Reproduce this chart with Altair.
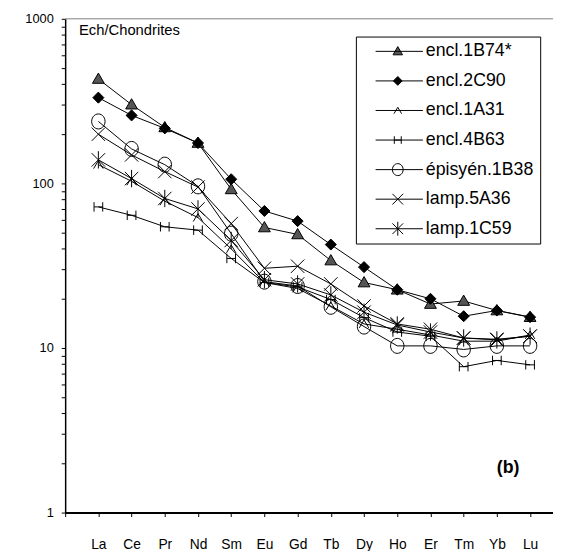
import math
import json
import altair as alt
import pandas as pd

# ---------------- data ----------------
elements = ["La", "Ce", "Pr", "Nd", "Sm", "Eu", "Gd", "Tb", "Dy", "Ho", "Er", "Tm", "Yb", "Lu"]
series_names = ["encl.1B74*", "encl.2C90", "encl.1A31", "encl.4B63",
                "épisyén.1B38", "lamp.5A36", "lamp.1C59"]

encl_1B74 = [431, 301, 219, 176, 92, 54, 49, 34, 25, 22.6, 18.5, 19.3, 16.9, 15.4]
encl_2C90 = [332, 259, 216, 176, 106, 68, 59, 42.5, 31, 22.6, 19.9, 15.6, 16.9, 15.4]
encl_1A31 = [130, 103, 78, 62, 40, 25, 23, 18, 14, 13, 12, 11, 11, 12]
encl_4B63 = [72, 64, 54.5, 52, 35, 25, 23.5, 19.7, 15.3, 12.5, 11.8, 7.7, 8.4, 7.9]
episyen_1B38 = [238, 162, 130, 96, 49.5, 25.3, 23.8, 17.8, 13.5, 10.3, 10.3, 9.8, 10.3, 10.3]
lamp_5A36 = [199, 149, 118, 95, 57, 30.5, 31.4, 24.5, 18, 14, 13, 11.5, 11.3, 11.8]
lamp_1C59 = [139, 107, 81, 70, 45, 26, 24.5, 21, 16.5, 13.8, 12.5, 11.5, 11.2, 11.8]

series_values = [encl_1B74, encl_2C90, encl_1A31, encl_4B63, episyen_1B38, lamp_5A36, lamp_1C59]
fill_colors = ["#555555", "black", "transparent", "transparent", "transparent", "transparent", "transparent"]
stroke_colors = ["black"] * len(series_names)

rows = []
for name, vals in zip(series_names, series_values):
    for i, (el, v) in enumerate(zip(elements, vals)):
        rows.append({"series": name, "element": el, "idx": i + 1, "value": v})
df = pd.DataFrame(rows)
one = pd.DataFrame([{"k": 0}])

# ---------------- marker geometry ----------------
def ring(rx, ry, n=28):
    return [(rx * math.cos(2 * math.pi * k / n), ry * math.sin(2 * math.pi * k / n)) for k in range(n)]

X_ARMS = [([(-0.85, -0.85), (0.85, 0.85)], False), ([(-0.85, 0.85), (0.85, -0.85)], False)]
marker_geom = [
    [([(0, -0.75), (0.75, 0.55), (-0.75, 0.55)], True)],                      # filled triangle
    [([(0, -0.7), (0.7, 0), (0, 0.7), (-0.7, 0)], True)],                      # filled diamond
    [([(-0.6, 0.5), (0, -0.5), (0.6, 0.5)], False)],                           # caret
    [([(-0.55, -0.6), (-0.55, 0.6)], False), ([(0.55, -0.6), (0.55, 0.6)], False),
     ([(-0.55, 0), (0.55, 0)], False)],                                        # H
    [(ring(0.85, 0.95), True)],                                                # circle
    X_ARMS,                                                                    # x
    X_ARMS + [([(0, -1.1), (0, 1.1)], False)],                                 # asterisk
]

def to_path(geom, k=1.0, cx=0.0):
    parts = []
    for pts, closed in geom:
        s = "M" + "L".join(f"{cx + k * x:.4f},{k * y:.4f}" for x, y in pts)
        if closed:
            s += "Z"
        parts.append(s)
    return "".join(parts)

marker_paths = [to_path(g) for g in marker_geom]
# legend symbol: a line segment with the marker on it
leg_k = 0.8 * 8 / 30
leg_cx = 0.2
legend_paths = ["M-0.55,0L1.05,0" + to_path(g, leg_k, leg_cx) for g in marker_geom]

# ---------------- chart ----------------
W, H = 495, 501
FONT = "Arial"
labels_js = json.dumps([""] + elements)

x_enc = alt.X("idx:Q",
              scale=alt.Scale(domain=[0, 14.69], nice=False, zero=False),
              axis=alt.Axis(values=list(range(0, 15)), labelExpr=f"{labels_js}[datum.value]",
                            title=None, grid=False, tickSize=4, tickColor="black",
                            domainColor="black", domainWidth=2, labelFont=FONT,
                            labelFontSize=14, labelColor="black", labelPadding=21,
                            labelFlush=False, labelOverlap=False))
y_enc = alt.Y("value:Q",
              scale=alt.Scale(type="log", domain=[1, 1000], nice=False),
              axis=alt.Axis(values=[m * 10 ** e for e in range(3) for m in range(1, 10)] + [1000],
                            labelExpr="indexof([1,10,100,1000], datum.value) >= 0 ? format(datum.value, 'd') : ''",
                            title=None, grid=False, tickSize=4, tickColor="black",
                            domainColor="black", domainWidth=1.5, labelFont=FONT,
                            labelFontSize=13, labelColor="black", labelPadding=8,
                            labelFlush=False, labelOverlap=False))

top_border = alt.Chart(one).mark_rule(color="#808080", strokeWidth=1).encode(
    x=alt.value(0), x2=alt.value(W), y=alt.value(0))

lines = alt.Chart(df).mark_line(color="black", strokeWidth=1).encode(
    x=x_enc, y=y_enc, detail="series:N", order="idx:Q")

points = alt.Chart(df).mark_point(size=256, stroke="black", strokeWidth=1, opacity=1, filled=False).encode(
    x=x_enc, y=y_enc,
    shape=alt.Shape("series:N", scale=alt.Scale(domain=series_names, range=marker_paths), legend=None),
    fill=alt.Fill("series:N", scale=alt.Scale(domain=series_names, range=fill_colors), legend=None),
)

leg = alt.Legend(title=None, orient="none", legendX=295, legendY=18, padding=6,
                 strokeColor="black", fillColor="white", symbolSize=3600,
                 symbolStrokeWidth=1, symbolStrokeColor="black", symbolOpacity=1,
                 labelFont=FONT, labelFontSize=18, labelColor="black", labelOffset=4,
                 labelExpr="datum.label + '\u00a0\u00a0'",
                 clipHeight=18, rowPadding=12, labelLimit=300)

legend_layer = alt.Chart(df).transform_filter("false").mark_point(
    size=100, strokeWidth=1, filled=False).encode(
    x=x_enc, y=y_enc,
    shape=alt.Shape("series:N", scale=alt.Scale(domain=series_names, range=legend_paths), legend=leg),
    fill=alt.Fill("series:N", scale=alt.Scale(domain=series_names, range=fill_colors), legend=leg),
    stroke=alt.Stroke("series:N", scale=alt.Scale(domain=series_names, range=stroke_colors), legend=leg),
)

label_ech = alt.Chart(one).mark_text(align="left", baseline="middle", font=FONT, fontSize=15,
                                    color="black").encode(
    x=alt.value(14), y=alt.value(11), text=alt.value("Ech/Chondrites"))
label_b = alt.Chart(one).mark_text(align="left", baseline="middle", font=FONT, fontSize=18,
                                  fontWeight="bold", color="black").encode(
    x=alt.value(438), y=alt.value(456), text=alt.value("(b)"))

chart = alt.layer(top_border, lines, points, legend_layer, label_ech, label_b).resolve_scale(
    shape="independent", fill="independent", stroke="independent"
).properties(
    width=W, height=H,
    padding={"left": 58, "top": 7, "right": 0, "bottom": 35},
    autosize=alt.AutoSizeParams(type="none"),
    background="white",
).configure_view(stroke=None)

chart.save("out.html", embed_options={"renderer": "svg", "actions": False})
